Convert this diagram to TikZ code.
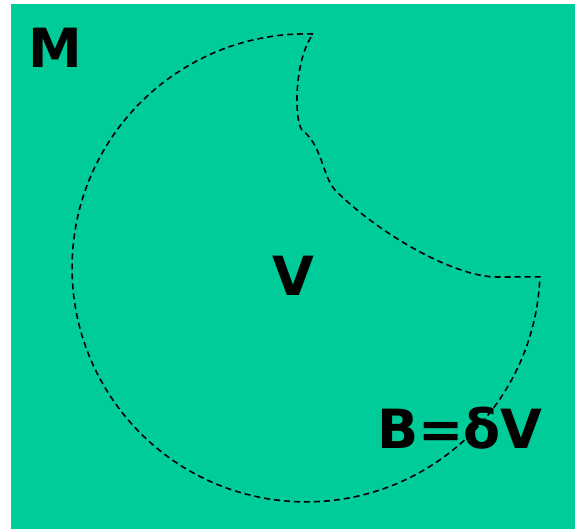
\documentclass[tikz,border=0pt]{standalone}
\usepackage{fontspec}
\setmainfont{DejaVu Sans}
\usepackage{xcolor}
\definecolor{verde}{HTML}{00CC99}

\begin{document}
\begin{tikzpicture}[
  x=1pt, y=-1pt,
  etiqueta/.style={font=\fontsize{54}{60}\selectfont\bfseries, inner sep=0pt, text=black},
  borde/.style={draw=black, line width=1.6pt, dash pattern=on 6pt off 4pt},
]

% --- Marco y fondo ---
\useasboundingbox (0,0) rectangle (575,529);
\fill[verde] (11,4) rectangle (575,529);

% --- Region V con su borde ---
\coordinate (centro) at (306,268);
\coordinate (pico) at (313,34);
\coordinate (esquina) at (540,276);
\draw[borde] (pico) arc[start angle=-88.3, end angle=-357.8, radius=234]
  -- (497,277) .. controls (455,277) and (380,235) .. (335,190)
  .. controls (322,175) and (322,145) .. (302,130)
  .. controls (294,120) and (294,60) .. (pico);

% --- Etiquetas ---
\node[etiqueta] (m) at (55,48) {M};
\node[etiqueta] (v) at (293,276) {V};
\node[etiqueta] (b) at (460,428) {B=δV};

\end{tikzpicture}
\end{document}
